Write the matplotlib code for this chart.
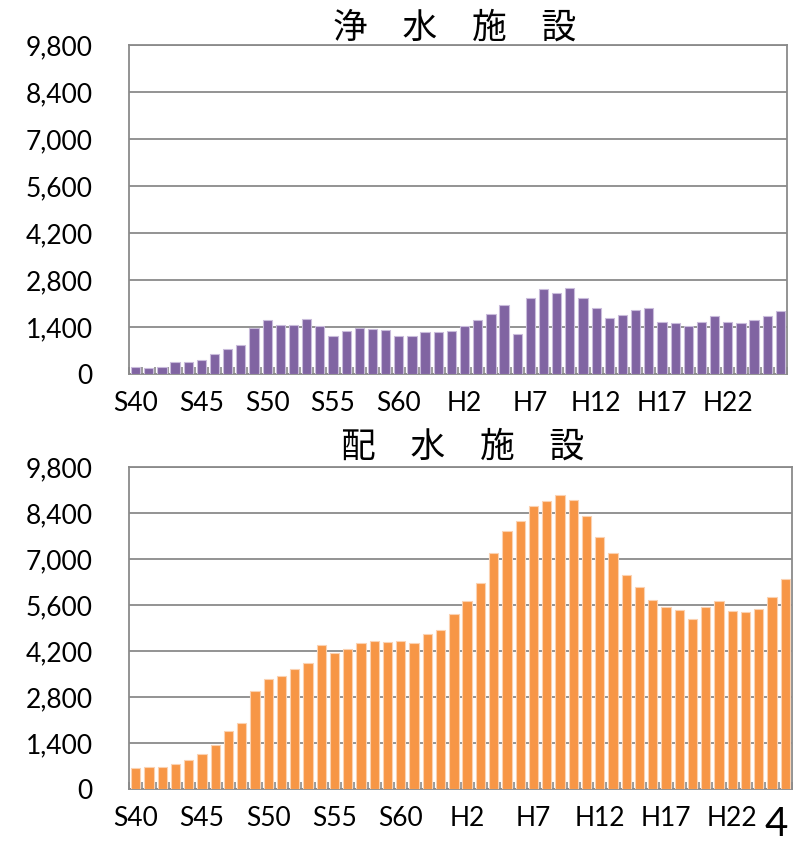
import matplotlib
matplotlib.use("Agg")
import matplotlib.pyplot as plt
from matplotlib.ticker import FuncFormatter, FixedLocator
import numpy as np

# Fiscal years S40 (1965) .. H26 (2014)
years = list(range(1965, 2015))
tick_labels = ["S40", "S45", "S50", "S55", "S60", "H2", "H7", "H12", "H17", "H22"]
tick_years = [1965, 1970, 1975, 1980, 1985, 1990, 1995, 2000, 2005, 2010]

# 浄水施設
purification = [207, 177, 207, 345, 355, 414, 601, 739, 877, 1370,
                1597, 1459, 1469, 1646, 1420, 1144, 1292, 1361, 1331, 1311,
                1144, 1134, 1246, 1250, 1285, 1430, 1599, 1787, 2055, 1191,
                2274, 2522, 2403, 2562, 2254, 1966, 1658, 1747, 1906, 1966,
                1559, 1519, 1420, 1559, 1718, 1559, 1509, 1618, 1728, 1877]

# 配水施設
distribution = [627, 657, 657, 758, 869, 1061, 1354, 1759, 2012, 2990,
                3348, 3439, 3662, 3845, 4372, 4129, 4261, 4454, 4504, 4484,
                4514, 4454, 4720, 4833, 5323, 5728, 6264, 7195, 7853, 8167,
                8613, 8775, 8957, 8795, 8309, 7661, 7195, 6527, 6163, 5758,
                5535, 5434, 5181, 5525, 5728, 5414, 5393, 5485, 5829, 6396]

y_ticks = [0, 1400, 2800, 4200, 5600, 7000, 8400, 9800]

plt.rcParams["font.family"] = ["Lato", "Noto Sans CJK JP", "DejaVu Sans"]

W, H = 794, 843
fig = plt.figure(figsize=(W / 100, H / 100), dpi=100)
fig.patch.set_facecolor("white")

grid_c = "#8a8a8a"


def panel(rect, values, color, edge):
    ax = fig.add_axes(rect)
    x = np.arange(len(years))
    ax.bar(x, values, width=0.7, color=color, edgecolor=edge, linewidth=0.8, zorder=3)
    ax.set_xlim(-0.5, len(years) - 0.5)
    ax.set_ylim(0, 9800)
    ax.set_yticks(y_ticks)
    ax.yaxis.set_major_formatter(FuncFormatter(lambda v, p: f"{int(v):,}"))
    ax.grid(axis="y", color=grid_c, linewidth=1.3, zorder=0)
    ax.set_axisbelow(True)
    pos = [years.index(y) for y in tick_years]
    ax.set_xticks(pos)
    ax.set_xticklabels(tick_labels)
    ax.xaxis.set_minor_locator(FixedLocator(np.arange(len(years) + 1) - 0.5))
    ax.tick_params(axis="x", which="major", length=0, pad=12, labelsize=19)
    ax.tick_params(axis="x", which="minor", direction="in", length=5,
                   width=1.2, color=grid_c)
    ax.tick_params(axis="y", length=0, pad=26, labelsize=19)
    for s in ax.spines.values():
        s.set_color(grid_c)
        s.set_linewidth(1.3)
    return ax


ax1 = panel([129 / W, 1 - 374 / H, (787 - 129) / W, (374 - 45) / H],
            purification, "#8064A2", "#c9bcdb")
ax2 = panel([129 / W, 1 - 789 / H, (792 - 129) / W, (789 - 467) / H],
            distribution, "#F79646", "#fbd2b2")

title_font = ["Noto Sans CJK JP", "DejaVu Sans"]
fig.text(455 / W, 1 - 28 / H, "浄\u3000水\u3000施\u3000設", ha="center", va="center",
         fontsize=25, family=title_font)
fig.text(463 / W, 1 - 447 / H, "配\u3000水\u3000施\u3000設", ha="center", va="center",
         fontsize=25, family=title_font)
fig.text(776 / W, 1 - 825 / H, "4", ha="center", va="center", fontsize=29,
         family=["Lato", "DejaVu Sans"])

fig.savefig("out.png", dpi=100, facecolor="white")
